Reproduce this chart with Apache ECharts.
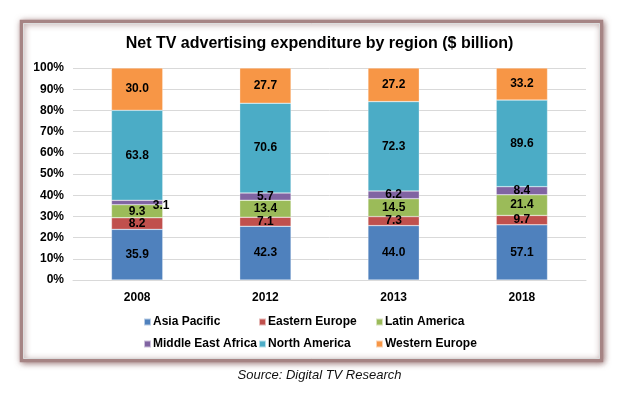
<!DOCTYPE html>
<html><head><meta charset="utf-8">
<script src="https://cdn.jsdelivr.net/npm/echarts@6/dist/echarts.min.js"></script>
<style>html,body{margin:0;padding:0;background:#fff}#c{width:639px;height:395px}</style>
</head><body><div id="c"></div>
<script>
var categories = ['2008', '2012', '2013', '2018'];
var seriesNames = ['Asia Pacific', 'Eastern Europe', 'Latin America', 'Middle East Africa', 'North America', 'Western Europe'];
var asiaPacific = [35.9, 42.3, 44.0, 57.1];
var easternEurope = [8.2, 7.1, 7.3, 9.7];
var latinAmerica = [9.3, 13.4, 14.5, 21.4];
var middleEastAfrica = [3.1, 5.7, 6.2, 8.4];
var northAmerica = [63.8, 70.6, 72.3, 89.6];
var westernEurope = [30.0, 27.7, 27.2, 33.2];
var yTicks = [0, 10, 20, 30, 40, 50, 60, 70, 80, 90, 100];

var colors = ['#4F81BD', '#C0504D', '#9BBB59', '#8064A2', '#4BACC6', '#F79646'];
var raw = [asiaPacific, easternEurope, latinAmerica, middleEastAfrica, northAmerica, westernEurope];
var totals = categories.map(function (c, i) {
  return raw.reduce(function (s, arr) { return s + arr[i]; }, 0);
});
var FONT = 'Liberation Sans, Arial, sans-serif';

var series = raw.map(function (arr, si) {
  return {
    name: seriesNames[si],
    type: 'bar',
    stack: 'total',
    barWidth: '40%',
    itemStyle: { color: colors[si], borderColor: 'rgba(255,255,255,0.6)', borderWidth: 0.5 },
    label: {
      show: true, position: 'inside', color: '#000', fontWeight: 'bold', fontSize: 12, fontFamily: FONT,
      formatter: function (p) { return arr[p.dataIndex].toFixed(1); }
    },
    data: arr.map(function (v, i) {
      var d = { value: v / totals[i] * 100 };
      if (si === 3 && i === 0) d.label = { offset: [24, 3] };
      return d;
    })
  };
});

function legendCol(names, left) {
  return { data: names, left: left, top: 316, padding: 0, orient: 'vertical', itemGap: 10, itemWidth: 7, itemHeight: 7,
    icon: 'rect', textStyle: { fontSize: 12, fontWeight: 'bold', color: '#000', fontFamily: FONT, padding: [0, 0, 0, -3] } };
}

var chart = echarts.init(document.getElementById('c'), null, { renderer: 'canvas' });
chart.setOption({
  animation: false,
  color: colors,
  title: {
    text: 'Net TV advertising expenditure by region ($ billion)',
    left: 'center', top: 36, padding: 0,
    textStyle: { fontSize: 16, fontWeight: 'bold', color: '#000', fontFamily: FONT }
  },
  grid: { left: 73, right: 53, top: 68, bottom: 115 },
  xAxis: {
    type: 'category', data: categories,
    axisLine: { show: true, lineStyle: { color: '#d9d9d9' } },
    axisTick: { show: false },
    axisLabel: { color: '#000', fontWeight: 'bold', fontSize: 12, fontFamily: FONT, margin: 12 }
  },
  yAxis: {
    type: 'value', min: yTicks[0], max: yTicks[yTicks.length - 1], interval: 10,
    axisLine: { show: false }, axisTick: { show: false },
    axisLabel: { color: '#000', fontWeight: 'bold', fontSize: 12, fontFamily: FONT, margin: 9, formatter: '{value}%' },
    splitLine: { lineStyle: { color: '#d9d9d9', width: 1 } }
  },
  legend: [
    legendCol([seriesNames[0], seriesNames[3]], 143),
    legendCol([seriesNames[1], seriesNames[4]], 258),
    legendCol([seriesNames[2], seriesNames[5]], 375)
  ],
  graphic: [
    { type: 'rect', z: -10, silent: true,
      shape: { x: 21.5, y: 21.5, width: 580, height: 339 },
      style: { fill: '#fff', stroke: '#a68484', lineWidth: 3.5, shadowBlur: 6, shadowColor: 'rgba(110,60,60,0.6)', shadowOffsetX: 1, shadowOffsetY: 1 } },
    { type: 'rect', z: -9, silent: true,
      shape: { x: 23.5, y: 23.5, width: 576, height: 335 },
      style: { fill: 'none', stroke: '#dcdcdc', lineWidth: 1 } },
    { type: 'text', left: 'center', top: 369, silent: true,
      style: { text: 'Source: Digital TV Research', fill: '#111', font: 'italic 13px Liberation Sans, Arial, sans-serif' } }
  ],
  series: series
});
</script></body></html>
